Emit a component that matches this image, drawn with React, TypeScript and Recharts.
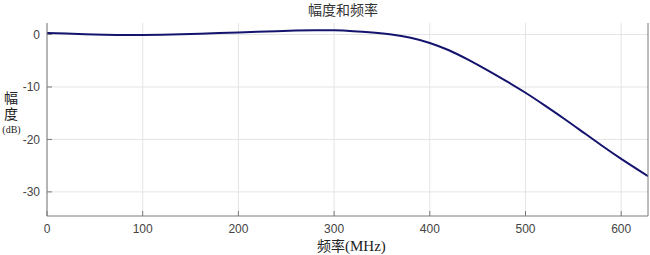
import React from 'react';
import { LineChart, Line, XAxis, YAxis, CartesianGrid } from 'recharts';

const freqs = [0, 20, 40, 60, 80, 100, 120, 140, 160, 180, 200, 220, 240, 260, 280, 300, 320, 340, 360, 380, 400, 420, 440, 460, 480, 500, 520, 540, 560, 580, 600, 628];
const amps = [0.3, 0.2, 0.07, -0.04, -0.09, -0.08, -0.03, 0.05, 0.15, 0.27, 0.4, 0.53, 0.65, 0.75, 0.82, 0.8, 0.64, 0.38, 0.02, -0.6, -1.6, -3.0, -4.8, -6.8, -8.9, -11.1, -13.5, -16.0, -18.6, -21.2, -23.7, -27.0];
const xTicks = [0, 100, 200, 300, 400, 500, 600];
const yTicks = [0, -10, -20, -30];

const data = freqs.map((f, i) => ({ f, amp: amps[i] }));

const axisColor = '#7a7a7a';
const tickFont = { fontFamily: 'Liberation Sans, Arial, sans-serif', fontSize: 12, fill: '#444' };

const App: React.FC = () => {
  return (
    <div style={{ position: 'absolute', left: 0, top: 0, width: 650, height: 255, background: '#fff' }}>
      <LineChart width={650} height={255} data={data} margin={{ top: 23, right: 0, left: 0, bottom: 0 }}>
        <CartesianGrid stroke="#e4e4e4" verticalValues={xTicks} horizontalValues={yTicks} />
        <XAxis
          dataKey="f"
          type="number"
          domain={[0, 628]}
          ticks={xTicks}
          height={39}
          stroke={axisColor}
          tickSize={-5}
          tickMargin={13}
          tick={tickFont}
          allowDataOverflow
        />
        <XAxis
          xAxisId="top"
          orientation="top"
          type="number"
          domain={[0, 628]}
          ticks={xTicks}
          height={0}
          stroke={axisColor}
          tickSize={-5}
          tick={false}
        />
        <YAxis
          type="number"
          domain={[-34.6, 2.2]}
          ticks={yTicks}
          width={47}
          stroke={axisColor}
          tickSize={-5}
          tickMargin={12}
          tick={tickFont}
          allowDataOverflow
        />
        <YAxis
          yAxisId="right"
          orientation="right"
          type="number"
          domain={[-34.6, 2.2]}
          ticks={yTicks}
          width={2}
          stroke={axisColor}
          tickSize={-5}
          tick={false}
        />
        <Line
          type="natural"
          dataKey="amp"
          stroke="#14146e"
          strokeWidth={2}
          dot={false}
          isAnimationActive={false}
        />
      </LineChart>
      <div style={{ position: 'absolute', left: 0, width: 686, top: 0, textAlign: 'center', fontFamily: 'Noto Sans CJK SC', fontSize: 14, color: '#333', lineHeight: '19px' }}>
        幅度和频率
      </div>
      <div
        style={{
          position: 'absolute',
          left: 3,
          top: 91,
          writingMode: 'vertical-rl',
          fontFamily: 'Noto Sans CJK SC',
          fontSize: 14,
          lineHeight: '16px',
          letterSpacing: 2,
          color: '#222',
        }}
      >
        幅度
      </div>
      <div style={{ position: 'absolute', left: 0, width: 23, top: 124, textAlign: 'center', fontFamily: 'Liberation Serif', fontSize: 10, lineHeight: '11px', color: '#222' }}>
        (dB)
      </div>
      <div style={{ position: 'absolute', left: 317, top: 237, color: '#222', whiteSpace: 'nowrap', lineHeight: '16px' }}>
        <span style={{ fontFamily: 'Noto Sans CJK SC', fontSize: 14 }}>频率</span>
        <span style={{ fontFamily: 'Liberation Serif', fontSize: 15 }}>(MHz)</span>
      </div>
    </div>
  );
};

export default App;
